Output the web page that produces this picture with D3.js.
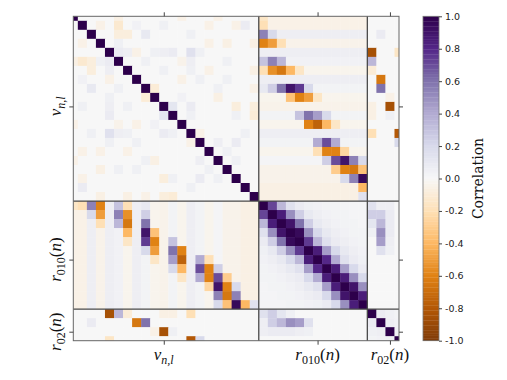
<!DOCTYPE html>
<html>
<head>
<meta charset="utf-8">
<script src="https://cdn.jsdelivr.net/npm/d3@7"></script>
<style>
  body { margin: 0; background: #fff; }
  svg { display: block; }
</style>
</head>
<body>
<div id="chart"></div>
<script>
// blocks of the correlation matrix: nu_{n,l}, r010(n), r02(n)
const blockSizes = [21, 12, 4];
const blockLabels = [
  { base: 'ν', sub: 'n,l', subItalic: true, arg: false },
  { base: 'r', sub: '010', subItalic: false, arg: true },
  { base: 'r', sub: '02', subItalic: false, arg: true },
];

// nu x nu: faint off-diagonal entries [row, col, value]
const nuNuCorr = [
  [5, 1, -0.12], [8, 2, 0.1], [13, 4, 0.15], [11, 10, 0.12], [6, 2, -0.08],
  [9, 8, -0.1], [20, 11, -0.1], [18, 10, -0.08], [5, 4, 0.08], [11, 4, 0.08],
  [10, 4, 0.06], [6, 4, 0.06], [7, 4, -0.05], [10, 1, 0.05], [13, 10, 0.08],
  [13, 5, 0.06], [13, 2, 0.05], [16, 14, 0.06], [18, 14, 0.08], [17, 15, 0.05],
  [19, 1, 0.08], [20, 10, -0.08], [20, 3, -0.06], [20, 6, -0.06], [15, 1, -0.05],
  [15, 3, -0.05], [16, 0, -0.05], [12, 0, -0.05], [17, 3, -0.06], [16, 9, -0.06],
  [12, 9, 0.04], [12, 7, -0.05], [14, 13, -0.05], [8, 5, 0.05], [9, 4, 0.05],
  [5, 3, 0.05], [3, 1, -0.05], [7, 1, 0.04], [5, 2, -0.08], [5, 0, -0.06],
  [17, 5, 0.05], [12, 5, -0.04], [10, 6, 0.05], [13, 6, 0.05], [15, 6, -0.05],
  [14, 7, 0.05], [17, 7, 0.05], [20, 8, -0.05], [13, 11, 0.05], [19, 13, 0.05],
  [16, 8, 0.05], [18, 1, -0.05], [18, 11, 0.05], [18, 16, 0.05], [14, 4, 0.05],
];

// nu x r010: faint tint of each nu row, then the strong entries [nu, r010, value]
const nuR010Tint = [
  -0.05, -0.05, 0.06, -0.04, 0.06, 0.04, -0.03, 0.06, 0.03, -0.03, -0.04,
  0.03, -0.03, 0.06, 0.03, -0.03, 0.02, -0.04, -0.04, -0.06, -0.06,
];
const nuR010Corr = [
  [0, 0, -0.15], [1, 0, -0.2],
  [2, 0, 0.55], [2, 1, 0.2],
  [3, 0, -0.6], [3, 1, -0.5], [3, 2, -0.2],
  [5, 0, 0.3], [5, 1, 0.55], [5, 2, 0.35],
  [6, 0, -0.2], [6, 1, -0.55], [6, 2, -0.65], [6, 3, -0.4], [6, 4, -0.15],
  [8, 0, 0.1], [8, 1, 0.25], [8, 2, 0.6], [8, 3, 0.9], [8, 4, 0.75], [8, 5, 0.2],
  [9, 3, -0.35], [9, 4, -0.6], [9, 5, -0.5], [9, 6, -0.15],
  [11, 4, 0.3], [11, 5, 0.6], [11, 6, 0.45], [11, 7, 0.2],
  [12, 5, -0.6], [12, 6, -0.75], [12, 7, -0.4], [12, 8, -0.15],
  [14, 6, 0.4], [14, 7, 0.7], [14, 8, 0.4],
  [15, 6, -0.2], [15, 7, -0.6], [15, 8, -0.6], [15, 9, -0.25],
  [16, 7, 0.25], [16, 8, 0.7], [16, 9, 0.9], [16, 10, 0.55], [16, 11, 0.2],
  [17, 8, -0.3], [17, 9, -0.6], [17, 10, -0.65], [17, 11, -0.35],
  [18, 9, 0.2], [18, 10, 0.55], [18, 11, 0.95],
  [19, 11, -0.4],
  [20, 11, 0.15],
];

// r010 x r010, lower triangle rows
const r010Corr = [
  [1],
  [0.72, 1],
  [0.35, 0.85, 1],
  [0.15, 0.5, 0.9, 1],
  [0.08, 0.25, 0.6, 0.95, 1],
  [0.05, 0.1, 0.25, 0.5, 0.75, 1],
  [0.04, 0.06, 0.1, 0.2, 0.35, 0.85, 1],
  [0.03, 0.04, 0.06, 0.1, 0.15, 0.45, 0.8, 1],
  [0.03, 0.03, 0.04, 0.06, 0.08, 0.2, 0.4, 0.85, 1],
  [0.02, 0.03, 0.03, 0.04, 0.06, 0.1, 0.15, 0.45, 0.85, 1],
  [0.02, 0.02, 0.03, 0.03, 0.04, 0.06, 0.08, 0.2, 0.5, 0.9, 1],
  [0.02, 0.02, 0.02, 0.03, 0.03, 0.04, 0.05, 0.08, 0.2, 0.5, 0.85, 1],
];

// nu x r02 and r010 x r02 entries
const nuR02Corr = [
  [4, 0, -0.85], [5, 0, 0.35], [6, 0, -0.1], [10, 0, -0.06], [11, 0, -0.06], [13, 0, -0.2],
  [2, 1, 0.08], [7, 1, -0.65], [8, 1, 0.6],
  [9, 2, -0.05], [10, 2, -0.85], [11, 2, 0.05],
  [4, 3, -0.15], [13, 3, -0.8], [14, 3, 0.2],
];
const r010R02Corr = [
  [0, 0, 0.15], [1, 0, 0.25], [2, 0, 0.12], [3, 0, 0.05],
  [0, 1, 0.06], [1, 1, 0.25], [2, 1, 0.35], [3, 1, 0.5], [4, 1, 0.45], [5, 1, 0.15],
  [0, 2, 0.06], [1, 2, 0.08], [2, 2, 0.08], [3, 2, 0.08], [4, 2, 0.06], [5, 2, 0.05],
];

// r02 x r02, lower triangle rows
const r02Corr = [
  [1],
  [0.08, 1],
  [0.05, 0.06, 1],
  [0.03, 0.04, 0.05, 1],
];

const colorbarTicks = [1.0, 0.8, 0.6, 0.4, 0.2, 0.0, -0.2, -0.4, -0.6, -0.8, -1.0];

const WIDTH = 507;
const HEIGHT = 380;
const PLOT = { left: 73.3, right: 399, top: 16.3, bottom: 340.7 };
const CBAR = { left: 423, width: 16 };

// PuOr anchors, -1 (orange) to +1 (purple), joined linearly
const puOr = [
  '#7f3b08', '#b35806', '#e08214', '#fdb863', '#fee0b6', '#f7f7f7',
  '#d8daeb', '#b2abd2', '#8073ac', '#542788', '#2d004b',
];

const N = d3.sum(blockSizes);
const starts = blockSizes.map((_, i) => d3.sum(blockSizes.slice(0, i)));

const matrix = Array.from({ length: N }, () => new Array(N).fill(0));
const setPair = (i, j, v) => {
  matrix[i][j] = v;
  matrix[j][i] = v;
};
for (let i = 0; i < N; i++) matrix[i][i] = 1;
nuNuCorr.forEach(([i, j, v]) => setPair(i, j, v));
nuR010Tint.forEach((v, i) => {
  for (let j = 0; j < blockSizes[1]; j++) setPair(i, starts[1] + j, v);
});
nuR010Corr.forEach(([i, j, v]) => setPair(i, starts[1] + j, v));
r010Corr.forEach((row, i) => row.forEach((v, j) => setPair(starts[1] + i, starts[1] + j, v)));
nuR02Corr.forEach(([i, j, v]) => setPair(i, starts[2] + j, v));
r010R02Corr.forEach(([i, j, v]) => setPair(starts[1] + i, starts[2] + j, v));
r02Corr.forEach((row, i) => row.forEach((v, j) => setPair(starts[2] + i, starts[2] + j, v)));

const cells = [];
matrix.forEach((row, i) => row.forEach((v, j) => cells.push({ i, j, v })));

const x = d3.scaleLinear().domain([0, N - 1]).range([PLOT.left, PLOT.right]);
const y = d3.scaleLinear().domain([0, N - 1]).range([PLOT.top, PLOT.bottom]);
const color = d3
  .scaleLinear()
  .domain(puOr.map((_, k) => -1 + (2 * k) / (puOr.length - 1)))
  .range(puOr)
  .clamp(true);

const svg = d3
  .select('#chart')
  .append('svg')
  .attr('width', WIDTH)
  .attr('height', HEIGHT)
  .style('font-family', '"DejaVu Sans", sans-serif');

svg
  .append('clipPath')
  .attr('id', 'plot-clip')
  .append('rect')
  .attr('x', PLOT.left)
  .attr('y', PLOT.top)
  .attr('width', PLOT.right - PLOT.left)
  .attr('height', PLOT.bottom - PLOT.top);

const cellW = x(1) - x(0);
const cellH = y(1) - y(0);

svg
  .append('g')
  .attr('clip-path', 'url(#plot-clip)')
  .selectAll('rect')
  .data(cells)
  .join('rect')
  .attr('x', (d) => x(d.j - 0.5))
  .attr('y', (d) => y(d.i - 0.5))
  .attr('width', cellW + 0.4)
  .attr('height', cellH + 0.4)
  .attr('fill', (d) => color(d.v));

// block separators
const bounds = starts.slice(1).map((s) => s - 0.5);
const sep = svg.append('g').attr('stroke', '#4a4a4a').attr('stroke-width', 1.3);
sep
  .selectAll('.vsep')
  .data(bounds)
  .join('line')
  .attr('x1', (d) => x(d))
  .attr('x2', (d) => x(d))
  .attr('y1', PLOT.top)
  .attr('y2', PLOT.bottom);
sep
  .selectAll('.hsep')
  .data(bounds)
  .join('line')
  .attr('x1', PLOT.left)
  .attr('x2', PLOT.right)
  .attr('y1', (d) => y(d))
  .attr('y2', (d) => y(d));

svg
  .append('rect')
  .attr('x', PLOT.left)
  .attr('y', PLOT.top)
  .attr('width', PLOT.right - PLOT.left)
  .attr('height', PLOT.bottom - PLOT.top)
  .attr('fill', 'none')
  .attr('stroke', '#666')
  .attr('stroke-width', 1);

// ticks on all four sides, one per block
const tickIdx = blockSizes.map((s, i) => starts[i] + Math.floor(s / 2));
const styleAxis = (g) => {
  g.select('.domain').remove();
  g.selectAll('.tick line').attr('stroke', '#444');
};
svg
  .append('g')
  .attr('transform', `translate(0,${PLOT.bottom})`)
  .call(d3.axisBottom(x).tickValues(tickIdx).tickSize(4).tickFormat(''))
  .call(styleAxis);
svg
  .append('g')
  .attr('transform', `translate(0,${PLOT.top})`)
  .call(d3.axisTop(x).tickValues(tickIdx).tickSize(4).tickFormat(''))
  .call(styleAxis);
svg
  .append('g')
  .attr('transform', `translate(${PLOT.left},0)`)
  .call(d3.axisLeft(y).tickValues(tickIdx).tickSize(4).tickFormat(''))
  .call(styleAxis);
svg
  .append('g')
  .attr('transform', `translate(${PLOT.right},0)`)
  .call(d3.axisRight(y).tickValues(tickIdx).tickSize(4).tickFormat(''))
  .call(styleAxis);

// math-style block labels
const writeLabel = (text, label) => {
  text
    .attr('text-anchor', 'middle')
    .style('font-family', '"Liberation Serif", "DejaVu Serif", serif')
    .style('font-size', '17px')
    .attr('fill', '#111');
  text.append('tspan').style('font-style', 'italic').text(label.base);
  text
    .append('tspan')
    .attr('dy', 4)
    .style('font-size', '12px')
    .style('font-style', label.subItalic ? 'italic' : 'normal')
    .text(label.sub);
  if (label.arg) {
    text.append('tspan').attr('dy', -4).text('(');
    text.append('tspan').style('font-style', 'italic').text('n');
    text.append('tspan').text(')');
  }
};

blockLabels.forEach((label, i) => {
  svg
    .append('text')
    .attr('x', x(tickIdx[i]))
    .attr('y', 360)
    .call(writeLabel, label);
  svg
    .append('text')
    .attr('transform', `translate(61,${y(tickIdx[i])}) rotate(-90)`)
    .call(writeLabel, label);
});

// colorbar
const cScale = d3.scaleLinear().domain([-1, 1]).range([PLOT.bottom, PLOT.top]);
const stripes = d3.range(128).map((k) => -1 + (k * 2) / 128);
const stripeH = cScale(-1) - cScale(-1 + 2 / 128);
svg
  .append('g')
  .selectAll('rect')
  .data(stripes)
  .join('rect')
  .attr('x', CBAR.left)
  .attr('y', (d) => cScale(d) - stripeH)
  .attr('width', CBAR.width)
  .attr('height', stripeH + 0.3)
  .attr('fill', (d) => color(d + 1 / 128));

svg
  .append('rect')
  .attr('x', CBAR.left)
  .attr('y', PLOT.top)
  .attr('width', CBAR.width)
  .attr('height', PLOT.bottom - PLOT.top)
  .attr('fill', 'none')
  .attr('stroke', '#777')
  .attr('stroke-width', 0.8);

svg
  .append('g')
  .attr('transform', `translate(${CBAR.left + CBAR.width},0)`)
  .call(
    d3
      .axisRight(cScale)
      .tickValues(colorbarTicks)
      .tickSize(3)
      .tickPadding(3)
      .tickFormat((d) => d.toFixed(1))
  )
  .call((g) => {
    g.select('.domain').remove();
    g.selectAll('.tick line').attr('stroke', '#444');
    g.selectAll('.tick text')
      .attr('fill', '#222')
      .style('font-family', '"DejaVu Sans", sans-serif')
      .style('font-size', '9.5px');
  });

svg
  .append('text')
  .attr('transform', `translate(483,${(PLOT.top + PLOT.bottom) / 2}) rotate(-90)`)
  .attr('text-anchor', 'middle')
  .style('font-family', '"DejaVu Serif", serif')
  .style('font-size', '14px')
  .attr('fill', '#111')
  .text('Correlation');
</script>
</body>
</html>
